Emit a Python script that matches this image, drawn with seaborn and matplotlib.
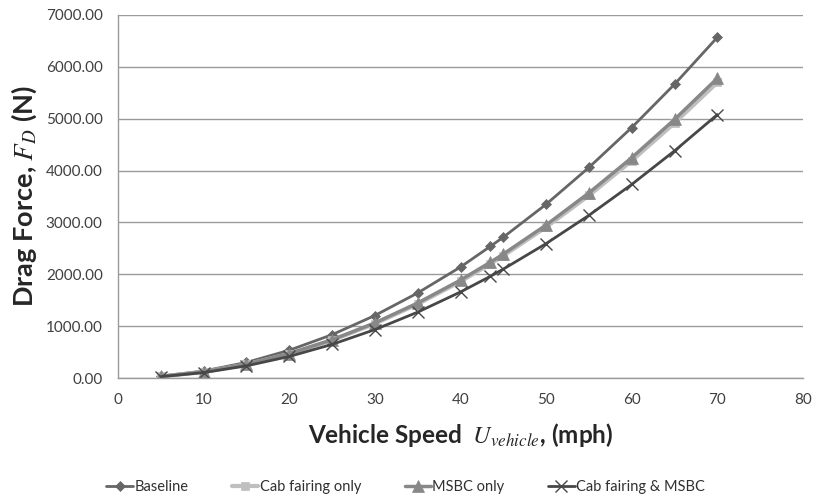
import pandas as pd
import numpy as np
import matplotlib.pyplot as plt
import seaborn as sns

# Speeds (mph) and drag force (N)
speed = [5, 10, 15, 20, 25, 30, 35, 40, 43.5, 45, 50, 55, 60, 65, 70]
baseline = [35, 135, 300, 535, 835, 1205, 1640, 2140, 2540, 2715, 3350, 4060, 4830, 5665, 6570]
cab_fairing = [29, 116, 262, 465, 727, 1048, 1426, 1862, 2202, 2357, 2910, 3520, 4190, 4918, 5700]
msbc = [30, 118, 266, 472, 737, 1062, 1446, 1888, 2233, 2390, 2950, 3570, 4248, 4986, 5780]
cab_msbc = [26, 104, 234, 415, 648, 933, 1270, 1659, 1962, 2100, 2592, 3137, 3733, 4381, 5080]

series = ['Baseline', 'Cab fairing only', 'MSBC only', 'Cab fairing & MSBC']
values = [baseline, cab_fairing, msbc, cab_msbc]
colors = ['#666666', '#bfbfbf', '#888888', '#474747']
markers = ['D', 's', '^', 'x']
msizes = [5.5, 6, 8.5, 8]
lwidths = [2.0, 3.0, 2.5, 2.0]

df = pd.concat([pd.DataFrame({'speed': speed, 'force': v, 'config': s})
                for s, v in zip(series, values)])

sns.set_style('white')
plt.rcParams['font.family'] = ['Lato', 'DejaVu Sans']
plt.rcParams['mathtext.fontset'] = 'stix'

fig = plt.figure(figsize=(8.13, 5.04), dpi=100)
ax = fig.add_axes([118 / 813, 1 - 378 / 504, (803 - 118) / 813, (378 - 15) / 504])

for s, c, m, ms, lw in zip(series, colors, markers, msizes, lwidths):
    d = df[df['config'] == s]
    sns.lineplot(data=d, x='speed', y='force', ax=ax, color=c, marker=m,
                 markersize=ms, linewidth=lw, markeredgecolor=c,
                 markeredgewidth=1.0 if m == 'x' else 0.5, label=s)

ax.set_xlim(0, 80)
ax.set_ylim(0, 7000)
ax.set_xticks(range(0, 81, 10))
ax.set_yticks(range(0, 7001, 1000))
ax.set_yticklabels([f'{v:.2f}' for v in range(0, 7001, 1000)])
ax.yaxis.grid(True, color='#9a9a9a', linewidth=1)
ax.xaxis.grid(False)
for sp in ['top', 'right']:
    ax.spines[sp].set_visible(False)
for sp in ['left', 'bottom']:
    ax.spines[sp].set_color('#9a9a9a')
    ax.spines[sp].set_linewidth(1)
ax.tick_params(axis='both', which='major', length=5, color='#9a9a9a',
               labelsize=11, labelcolor='#404040', direction='out')
ax.tick_params(axis='y', pad=6)
ax.tick_params(axis='x', pad=6)

ax.set_xlabel(r'Vehicle Speed  $U_{vehicle}$, (mph)', fontsize=17.5, fontweight='bold', labelpad=10)
ax.set_ylabel(r'Drag Force, $F_D$ (N)', fontsize=19.5, fontweight='bold', labelpad=5)

ax.legend(loc='upper center', bbox_to_anchor=(0.42, -0.245), ncol=4, frameon=False,
          fontsize=10.5, handlelength=1.8, columnspacing=3.0, handletextpad=0.1,
          labelcolor='#303030')

fig.savefig('out.png', dpi=100)
